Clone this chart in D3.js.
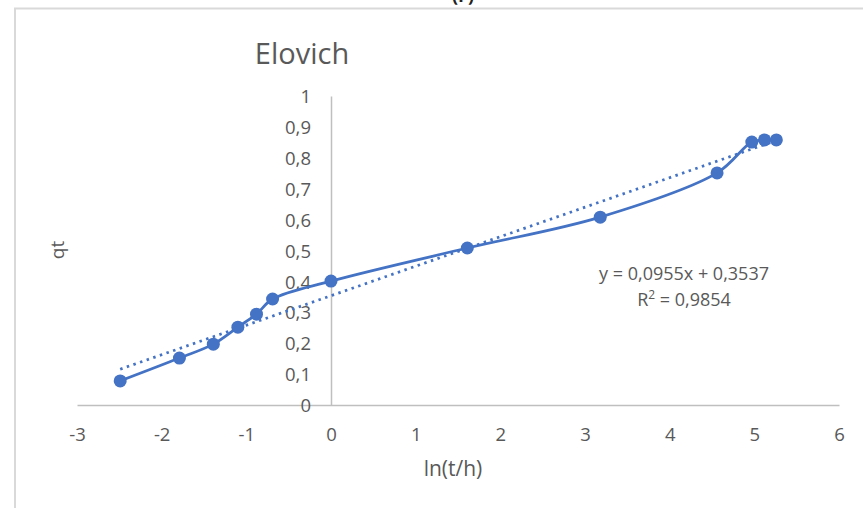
<!DOCTYPE html>
<html>
<head>
<meta charset="utf-8">
<script src="https://cdn.jsdelivr.net/npm/d3@7"></script>
<style>
  html, body { margin: 0; padding: 0; background: #fff; }
  svg { display: block; }
  text { font-family: "Open Sans", Lato, sans-serif; }
</style>
</head>
<body>
<svg id="chart" width="863" height="508"></svg>
<script>
// ln(t/h) values and adsorbed amount qt
const lnT = [-2.49, -1.79, -1.39, -1.10, -0.88, -0.69, 0, 1.61, 3.18, 4.56, 4.97, 5.12, 5.26];
const qt  = [0.078, 0.152, 0.197, 0.252, 0.294, 0.343, 0.401, 0.508, 0.608, 0.751, 0.851, 0.858, 0.858];

// linear fit reported on the chart
const slope = 0.0955;
const intercept = 0.3537;
const r2 = 0.9854;

const xTicks = [-3, -2, -1, 0, 1, 2, 3, 4, 5, 6];
const yTicks = [0, 0.1, 0.2, 0.3, 0.4, 0.5, 0.6, 0.7, 0.8, 0.9, 1];

const fmt = v => String(+v.toFixed(4)).replace('.', ',');

const svg = d3.select('#chart');
const blue = '#4472C4';
const grey = '#595959';
const font = '"Open Sans", Lato, sans-serif';

// outer chart frame
svg.append('path')
  .attr('d', 'M15,508 L15,8.5 L863,8.5')
  .attr('fill', 'none')
  .attr('stroke', '#d9d9d9')
  .attr('stroke-width', 2);

svg.append('text')
  .attr('x', 463).attr('y', 2)
  .attr('text-anchor', 'middle')
  .attr('font-size', 18)
  .attr('font-weight', 'bold')
  .attr('fill', '#222')
  .text('(F)');

const x = d3.scaleLinear().domain([-3, 6]).range([77, 839]);
const y = d3.scaleLinear().domain([0, 1]).range([405, 96]);

// axes drawn through the origin
const xAxis = svg.append('g').attr('transform', `translate(0,${y(0)})`)
  .call(d3.axisBottom(x).tickValues(xTicks).tickSize(0).tickPadding(23).tickFormat(d => String(d)));
const yAxis = svg.append('g').attr('transform', `translate(${x(0)},0)`)
  .call(d3.axisLeft(y).tickValues(yTicks).tickSize(0).tickPadding(20).tickFormat(fmt));

[xAxis, yAxis].forEach(g => {
  g.select('.domain').attr('stroke', '#bfbfbf').attr('stroke-width', 1.5);
  g.selectAll('text').attr('fill', grey).attr('font-size', 18.5).attr('font-family', font);
});
xAxis.selectAll('text').attr('dy', '0.71em');
yAxis.selectAll('text').attr('dy', '0.36em');

// title and axis titles
svg.append('text')
  .attr('x', 302).attr('y', 64)
  .attr('text-anchor', 'middle')
  .attr('font-size', 29)
  .attr('fill', grey)
  .text('Elovich');

svg.append('text')
  .attr('transform', 'translate(64,250) rotate(-90)')
  .attr('text-anchor', 'middle')
  .attr('font-size', 19)
  .attr('fill', grey)
  .text('qt');

svg.append('text')
  .attr('x', 453).attr('y', 476)
  .attr('text-anchor', 'middle')
  .attr('font-size', 21)
  .attr('fill', grey)
  .text('ln(t/h)');

const pts = lnT.map((v, i) => [v, qt[i]]);

// smoothed data line
svg.append('path')
  .datum(pts)
  .attr('fill', 'none')
  .attr('stroke', blue)
  .attr('stroke-width', 2.75)
  .attr('d', d3.line().x(d => x(d[0])).y(d => y(d[1])).curve(d3.curveCatmullRom.alpha(0.5)));

// dotted linear trend line
const xmin = d3.min(lnT), xmax = d3.max(lnT);
svg.append('line')
  .attr('x1', x(xmin)).attr('y1', y(slope * xmin + intercept))
  .attr('x2', x(xmax)).attr('y2', y(slope * xmax + intercept))
  .attr('stroke', blue)
  .attr('stroke-width', 2.75)
  .attr('stroke-dasharray', '2.5 4.5')
  .attr('stroke-linecap', 'butt');

// markers
svg.append('g').selectAll('circle')
  .data(pts).join('circle')
  .attr('cx', d => x(d[0]))
  .attr('cy', d => y(d[1]))
  .attr('r', 6.5)
  .attr('fill', blue);

// trend line equation
const eq = svg.append('text')
  .attr('text-anchor', 'middle')
  .attr('font-size', 18)
  .attr('fill', grey);
eq.append('tspan').attr('x', 684).attr('y', 280)
  .text(`y = ${fmt(slope)}x + ${fmt(intercept)}`);
const r2Line = eq.append('tspan').attr('x', 684).attr('y', 306);
r2Line.append('tspan').text('R');
r2Line.append('tspan').attr('font-size', 12).attr('dy', -7).text('2');
r2Line.append('tspan').attr('dy', 7).text(` = ${fmt(r2)}`);
</script>
</body>
</html>
